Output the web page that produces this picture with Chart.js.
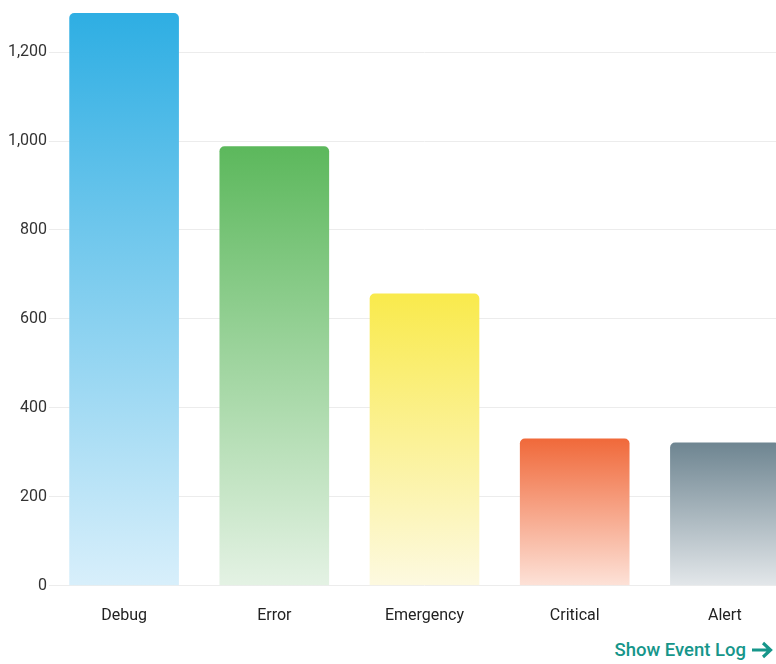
<!DOCTYPE html>
<html lang="en">
<head>
  <meta charset="UTF-8" />
  <title>Event Levels</title>
  <script src="https://cdn.jsdelivr.net/npm/chart.js"></script>
  <style>
    body {
      margin: 0;
      background: #fff;
      font-family: Roboto, Arial, sans-serif;
      overflow: hidden;
    }
    .wrap {
      width: 776px;
      height: 664px;
      overflow: hidden;
      position: relative;
    }
    canvas { display: block; margin-left: -3px; margin-top: -4px; }
    .link {
      position: absolute;
      right: 3px;
      top: 639px;
      color: #16968a;
      font-size: 18.5px;
      font-weight: 500;
      text-decoration: none;
      display: flex;
      align-items: center;
      gap: 5px;
    }
  </style>
</head>
<body>
  <div class="wrap">
    <canvas id="chart" width="803" height="643"></canvas>
    <a class="link" href="#">Show Event Log
      <svg width="22" height="18" viewBox="0 0 22 18"><path d="M1 9 H19 M12 2 L19.5 9 L12 16" stroke="#16968a" stroke-width="3.2" fill="none"/></svg>
    </a>
  </div>

  <script>
    const levels = ['Debug', 'Error', 'Emergency', 'Critical', 'Alert'];
    const counts = [1288, 988, 657, 331, 322];
    const topColors = ['#2eaee3', '#5cb85c', '#f9ea4c', '#f0693a', '#6e8591'];
    const bottomColors = ['#d8effb', '#e4f2e4', '#fdf9e0', '#fde2d8', '#e3e7ea'];

    function barGradient(ctx) {
      const chart = ctx.chart;
      const i = ctx.dataIndex;
      const y = chart.scales.y;
      if (!chart.chartArea || !y || i === undefined) return topColors[i || 0];
      const top = y.getPixelForValue(counts[i]);
      const bottom = y.getPixelForValue(0);
      const g = chart.ctx.createLinearGradient(0, top, 0, bottom);
      g.addColorStop(0, topColors[i]);
      g.addColorStop(1, bottomColors[i]);
      return g;
    }

    new Chart(document.getElementById('chart'), {
      type: 'bar',
      data: {
        labels: levels,
        datasets: [{
          data: counts,
          backgroundColor: barGradient,
          borderRadius: { topLeft: 5, topRight: 5 },
          borderSkipped: 'bottom',
          barPercentage: 0.73,
          categoryPercentage: 1
        }]
      },
      options: {
        responsive: false,
        animation: false,
        layout: { padding: 0 },
        plugins: { legend: { display: false }, tooltip: { enabled: false } },
        scales: {
          x: {
            grid: { display: false },
            border: { display: false },
            ticks: { color: '#222', font: { family: 'Roboto', size: 16 }, padding: 13 }
          },
          y: {
            min: 0,
            max: 1300,
            afterFit: s => { s.width = 52; },
            afterBuildTicks: s => { s.ticks = s.ticks.filter(t => t.value % 200 === 0); },
            grid: { color: '#ececec', drawTicks: false },
            border: { display: false },
            ticks: {
              stepSize: 200,
              color: '#333',
              padding: 2,
              font: { family: 'Roboto', size: 16 },
              callback: v => v.toLocaleString('en-US')
            }
          }
        }
      }
    });
  </script>
</body>
</html>
